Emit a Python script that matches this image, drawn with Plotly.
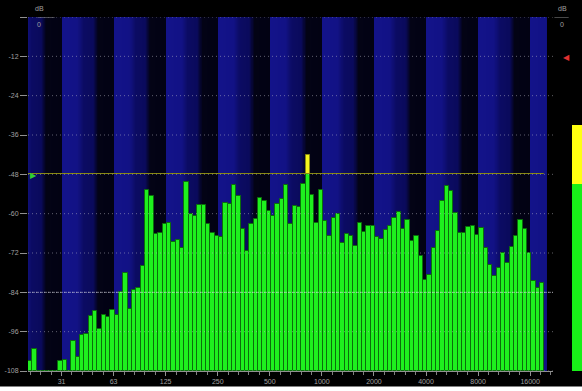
import numpy as np
import plotly.graph_objects as go

# ---- data -------------------------------------------------------------
F_START = 20.0          # lowest band edge, Hz
BANDS_PER_OCTAVE = 12   # 1/12-octave analysis bands

# band levels in dB (None = below the floor of the display)
levels_db = [
    -104.9, -101.3, None, None, None, None, None, -104.8, -104.5, None,
    -98.7, -103.7, -97.0, -96.8, -91.3, -89.8, -95.2, -90.8, -91.6, -89.3,
    -90.8, -83.9, -78.1, -89.0, -83.2, -82.7, -75.9, -52.9, -54.7, -66.2,
    -65.9, -63.3, -62.8, -68.6, -67.9, -70.6, -50.4, -60.0, -60.6, -57.5,
    -57.5, -63.3, -65.9, -66.7, -67.2, -56.7, -57.2, -51.4, -54.5, -64.7,
    -71.5, -63.1, -61.6, -55.2, -56.2, -59.1, -60.6, -57.2, -55.5, -51.4,
    -63.3, -57.8, -58.0, -51.1, -42.0, -54.4, -62.8, -52.7, -62.1, -66.7,
    -61.3, -60.0, -68.8, -66.2, -66.7, -70.0, -62.8, -65.7, -63.9, -63.9,
    -67.2, -67.6, -64.9, -63.9, -61.3, -59.6, -64.7, -62.0, -68.4, -66.9,
    -72.8, -80.1, -78.6, -70.5, -65.4, -56.2, -51.6, -53.2, -59.8, -65.9,
    -65.9, -64.2, -63.9, -66.5, -64.4, -70.5, -75.6, -79.1, -76.6, -72.0,
    -75.0, -70.2, -66.9, -61.8, -64.7, -72.0, -80.6, -82.7, -81.0,
]

freq_tick_values = [31.25, 62.5, 125, 250, 500, 1000, 2000, 4000, 8000, 16000]
freq_tick_labels = ["31", "63", "125", "250", "500", "1000", "2000", "4000", "8000", "16000"]
db_tick_values = [0, -12, -24, -36, -48, -60, -72, -84, -96, -108]
db_tick_labels = ["", "-12", "-24", "-36", "-48", "-60", "-72", "-84", "-96", "-108"]

DB_FLOOR = -108
WARN_LEVEL = -48        # bands above this are shown in yellow
REF_LEVEL = -84         # reference line
METER_LEVEL = -33       # overall level meter
METER_WARN = -51

# ---- derived geometry (octave units on a linear axis) -----------------
x0 = np.log2(F_START)
x_end = x0 + np.log2(20000 / F_START)          # stripes stop at 20 kHz
x_max = x0 + 10.083                            # a little black room on the right
n = len(levels_db)
centers = x0 + (np.arange(n) + 0.5) / BANDS_PER_OCTAVE
vals = np.array([np.nan if v is None else v for v in levels_db], dtype=float)

green_h = np.where(np.isnan(vals), 0, np.minimum(vals, WARN_LEVEL) - DB_FLOOR)
yellow_h = np.where(np.isnan(vals), 0, np.maximum(vals - WARN_LEVEL, 0))

fig = go.Figure()

# octave background stripes: blue at each octave start fading to black
cols = np.arange(x0, x_end, 1 / 96)
phase = np.mod(cols - np.log2(31.25), 1.0)
intensity = np.interp(phase, [0.0, 0.30, 0.42, 0.60, 0.70, 1.0],
                             [1.0, 0.95, 0.62, 0.55, 0.04, 0.02])
fig.add_trace(go.Heatmap(
    x=cols + 1 / 192, y=[DB_FLOOR, 0], z=[intensity, intensity],
    colorscale=[[0, "#020210"], [0.55, "#0a0a5c"], [1, "#13138a"]],
    zmin=0, zmax=1, showscale=False, hoverinfo="skip",
))

fig.add_trace(go.Bar(
    x=centers, y=green_h, base=DB_FLOOR, width=1 / BANDS_PER_OCTAVE,
    marker=dict(color="#1ef01e", line=dict(color="#0b6e0b", width=1)),
    hoverinfo="skip",
))
fig.add_trace(go.Bar(
    x=centers, y=yellow_h, base=WARN_LEVEL, width=1 / BANDS_PER_OCTAVE,
    marker=dict(color="#f5f51e", line=dict(color="#8a8a10", width=1)),
    hoverinfo="skip",
))

# dotted level grid drawn over the bars
for v in db_tick_values:
    fig.add_trace(go.Scatter(
        x=[x0, x_max], y=[v, v], mode="lines",
        line=dict(color="rgba(190,190,200,0.5)", width=1, dash="1px,3px"),
        hoverinfo="skip",
    ))
fig.add_trace(go.Scatter(
    x=[x0, x_max], y=[REF_LEVEL, REF_LEVEL], mode="lines",
    line=dict(color="rgba(230,230,240,0.5)", width=1, dash="3px,1px"),
    hoverinfo="skip",
))

# overall level meter at the far right
fig.add_trace(go.Bar(x=[0], y=[METER_WARN - DB_FLOOR], base=DB_FLOOR, width=1,
                     marker=dict(color="#18f018", line=dict(width=0)),
                     xaxis="x2", hoverinfo="skip"))
fig.add_trace(go.Bar(x=[0], y=[METER_LEVEL - METER_WARN], base=METER_WARN, width=1,
                     marker=dict(color="#ffff10", line=dict(width=0)),
                     xaxis="x2", hoverinfo="skip"))

tick_font = dict(family="Liberation Sans, Arial, sans-serif", size=7, color="#a0a0a0")

fig.update_layout(
    width=582, height=391,
    margin=dict(l=28, r=0, t=17, b=20),
    paper_bgcolor="#000000", plot_bgcolor="#000000",
    showlegend=False, barmode="overlay", bargap=0,
    xaxis=dict(
        domain=[0, 525 / 554], range=[x0, x_max],
        tickmode="array", tickvals=list(np.log2(freq_tick_values)), ticktext=freq_tick_labels,
        ticks="outside", ticklen=4, tickcolor="#909090", tickfont=tick_font,
        showgrid=False, zeroline=False, showline=True, linecolor="#909090", linewidth=1,
        minor=dict(ticks="outside", ticklen=3, tickcolor="#808080",
                   tick0=np.log2(31.25), dtick=0.2, showgrid=False),
        fixedrange=True,
    ),
    xaxis2=dict(domain=[544 / 554, 1], range=[-0.5, 0.5], visible=False, anchor="y"),
    yaxis=dict(
        range=[DB_FLOOR, 0], tickmode="array", tickvals=db_tick_values, ticktext=db_tick_labels,
        ticks="outside", ticklen=7, tickcolor="#909090", tickfont=tick_font,
        showgrid=False, zeroline=False, showline=False,
    ),
    yaxis2=dict(
        range=[DB_FLOOR, 0], overlaying="y", side="right", anchor="x",
        tickmode="array", tickvals=db_tick_values, ticktext=db_tick_labels,
        ticks="outside", ticklen=5, tickcolor="#909090", tickfont=tick_font,
        showgrid=False, zeroline=False, showline=False,
    ),
)

# dB headers and the "0" labels
ann_font = dict(family="Liberation Sans, Arial, sans-serif", size=7, color="#a0a0a0")
for xp in (12, 561):
    fig.add_annotation(text="dB", x=xp / 582, y=0, xref="paper", yref="y",
                       yshift=9, showarrow=False, font=ann_font, xanchor="center")
    fig.add_annotation(text="0", x=xp / 582, y=0, xref="paper", yref="y",
                       yshift=-7, showarrow=False, font=ann_font, xanchor="center")
fig.add_shape(type="line", xref="paper", yref="y", x0=10 / 582, x1=28 / 582, y0=0, y1=0,
              line=dict(color="#909090", width=1))
fig.add_shape(type="line", xref="paper", yref="y", x0=553 / 582, x1=568 / 582, y0=0, y1=0,
              line=dict(color="#909090", width=1))

# level markers: warning threshold (left) and target level (right)
fig.add_annotation(text="▶", x=0, y=WARN_LEVEL, xref="paper", yref="y", xanchor="left",
                   showarrow=False, font=dict(size=8, color="#30d030"))
fig.add_annotation(text="◀", x=571 / 582, y=-12, xref="paper", yref="y", xanchor="right",
                   showarrow=False, font=dict(size=8, color="#e03030"))

# page strip below the panel
fig.add_annotation(text=" ", xref="paper", yref="paper", x=0.5, y=-15 / 354,
                   xanchor="center", yanchor="top", showarrow=False,
                   width=640, height=12, bgcolor="#ffffff", borderpad=0,
                   font=dict(size=8))

fig.write_html("out.html")
